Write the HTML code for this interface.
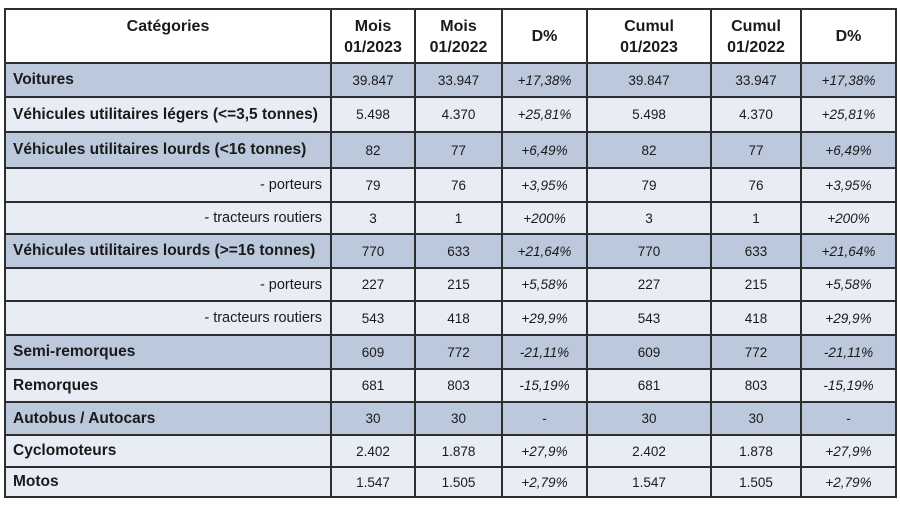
<!DOCTYPE html>
<html><head><meta charset="utf-8"><style>
html,body{margin:0;padding:0;background:#fff;width:900px;height:507px;overflow:hidden}
table{position:absolute;left:4px;top:8px;border-collapse:collapse;table-layout:fixed;font-family:"Liberation Sans",sans-serif;color:#1a1a1a}
td,th{border:2px solid #2e2e2e;padding:0;text-align:center;font-size:13.5px;overflow:hidden;white-space:nowrap}
th{font-size:16px;font-weight:bold;vertical-align:top;padding-top:6px;line-height:21px;background:#fff}
td.c{text-align:left;padding-left:7px;font-weight:bold;font-size:15.5px}
td.s{text-align:right;padding-right:8px;font-size:14.5px}
td.p{font-style:italic}
tr.d td{background:#bcc8dc}
tr.l td{background:#e8ecf5}
</style></head><body>
<table>
<colgroup><col style="width:326px"><col style="width:84px"><col style="width:87px"><col style="width:85px"><col style="width:124px"><col style="width:90px"><col style="width:95px"></colgroup>
<tr style="height:54px"><th>Catégories</th><th>Mois<br>01/2023</th><th>Mois<br>01/2022</th><th style="padding-top:16px">D%</th><th>Cumul<br>01/2023</th><th>Cumul<br>01/2022</th><th style="padding-top:16px">D%</th></tr>
<tr class="d" style="height:34px"><td class="c">Voitures</td><td>39.847</td><td>33.947</td><td class="p">+17,38%</td><td>39.847</td><td>33.947</td><td class="p">+17,38%</td></tr>
<tr class="l" style="height:35px"><td class="c">Véhicules utilitaires légers (&lt;=3,5 tonnes)</td><td>5.498</td><td>4.370</td><td class="p">+25,81%</td><td>5.498</td><td>4.370</td><td class="p">+25,81%</td></tr>
<tr class="d" style="height:36px"><td class="c">Véhicules utilitaires lourds (&lt;16 tonnes)</td><td>82</td><td>77</td><td class="p">+6,49%</td><td>82</td><td>77</td><td class="p">+6,49%</td></tr>
<tr class="l" style="height:34px"><td class="s">- porteurs</td><td>79</td><td>76</td><td class="p">+3,95%</td><td>79</td><td>76</td><td class="p">+3,95%</td></tr>
<tr class="l" style="height:32px"><td class="s">- tracteurs routiers</td><td>3</td><td>1</td><td class="p">+200%</td><td>3</td><td>1</td><td class="p">+200%</td></tr>
<tr class="d" style="height:34px"><td class="c">Véhicules utilitaires lourds (&gt;=16 tonnes)</td><td>770</td><td>633</td><td class="p">+21,64%</td><td>770</td><td>633</td><td class="p">+21,64%</td></tr>
<tr class="l" style="height:33px"><td class="s">- porteurs</td><td>227</td><td>215</td><td class="p">+5,58%</td><td>227</td><td>215</td><td class="p">+5,58%</td></tr>
<tr class="l" style="height:34px"><td class="s">- tracteurs routiers</td><td>543</td><td>418</td><td class="p">+29,9%</td><td>543</td><td>418</td><td class="p">+29,9%</td></tr>
<tr class="d" style="height:34px"><td class="c">Semi-remorques</td><td>609</td><td>772</td><td class="p">-21,11%</td><td>609</td><td>772</td><td class="p">-21,11%</td></tr>
<tr class="l" style="height:33px"><td class="c">Remorques</td><td>681</td><td>803</td><td class="p">-15,19%</td><td>681</td><td>803</td><td class="p">-15,19%</td></tr>
<tr class="d" style="height:33px"><td class="c">Autobus / Autocars</td><td>30</td><td>30</td><td>-</td><td>30</td><td>30</td><td>-</td></tr>
<tr class="l" style="height:32px"><td class="c">Cyclomoteurs</td><td>2.402</td><td>1.878</td><td class="p">+27,9%</td><td>2.402</td><td>1.878</td><td class="p">+27,9%</td></tr>
<tr class="l" style="height:30px"><td class="c">Motos</td><td>1.547</td><td>1.505</td><td class="p">+2,79%</td><td>1.547</td><td>1.505</td><td class="p">+2,79%</td></tr>
</table>
</body></html>
